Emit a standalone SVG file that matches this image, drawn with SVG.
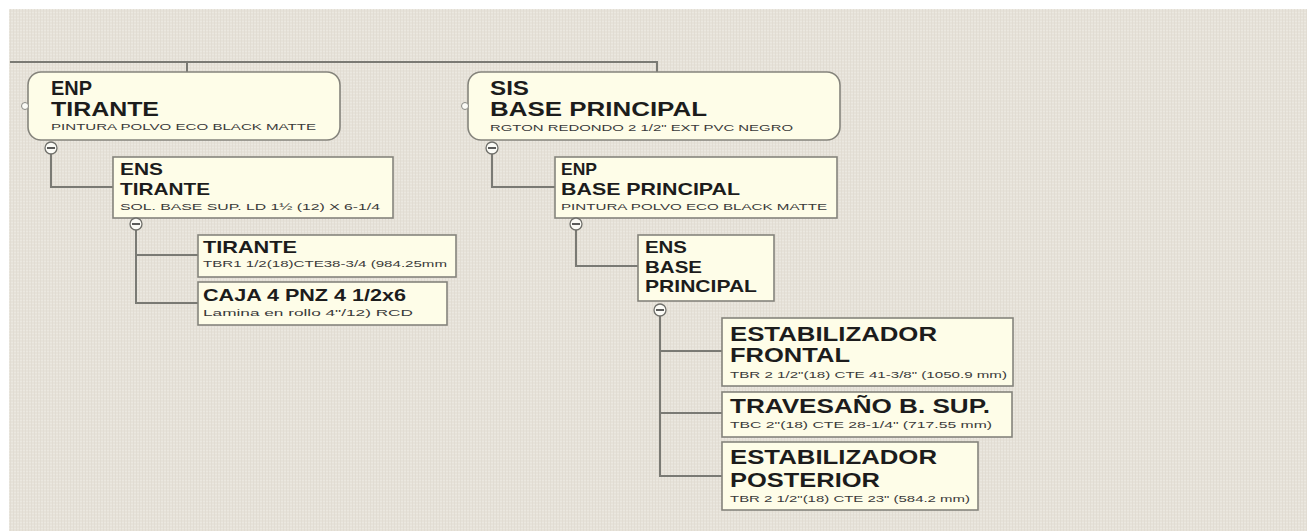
<svg xmlns="http://www.w3.org/2000/svg" width="1307" height="531" viewBox="0 0 1307 531">
<defs>
<pattern id="linen" width="6" height="6" patternUnits="userSpaceOnUse">
<rect width="6" height="6" fill="#e6e2d9"/>
<path d="M0 0.5H6M0 3.5H6" stroke="#ebe8e0" stroke-width="1"/>
<path d="M1.5 0V6M4.5 0V6" stroke="#dfdbd1" stroke-width="0.8"/>
</pattern>
</defs>
<style>
.box{fill:#fefde8;stroke:#85847c;stroke-width:1.6}
.t{font-family:"Liberation Sans",Arial,sans-serif;font-weight:bold;fill:#1c1c1c}
.s{font-family:"Liberation Sans",Arial,sans-serif;fill:#3a3a3a;font-size:9.5px}
.c{fill:none;stroke:#7a7a74;stroke-width:2}
.tog{fill:#fbfbf6;stroke:#6f6f6a;stroke-width:1.3}
.dash{stroke:#333;stroke-width:1.6}
.dot{fill:#fbfbf6;stroke:#8a8a84;stroke-width:1}
</style>
<rect width="1307" height="531" fill="#ffffff"/>
<rect x="9" y="9" width="1298" height="522" fill="url(#linen)"/>
<g id="connectors">
<path class="c" d="M10 62H658M187 62V72M657 62V72"/>
<path class="c" d="M51 154V187H113"/>
<path class="c" d="M492 154V187H555"/>
<path class="c" d="M136 230V303H198M136 255H198"/>
<path class="c" d="M576 230V266H638"/>
<path class="c" d="M660 316V476H722M660 351H722M660 413H722"/>
</g>
<g id="n-enp-tirante">
<rect class="box" x="28" y="72" width="312" height="68" rx="13"/>
<circle class="dot" cx="25" cy="106" r="3.5"/>
<text class="t" x="51" y="95" font-size="20" textLength="41" lengthAdjust="spacingAndGlyphs">ENP</text>
<text class="t" x="51" y="116" font-size="20" textLength="108" lengthAdjust="spacingAndGlyphs">TIRANTE</text>
<text class="s" x="51" y="130" textLength="265" lengthAdjust="spacingAndGlyphs">PINTURA POLVO ECO BLACK MATTE</text>
<circle class="tog" cx="51" cy="148" r="6"/><path class="dash" d="M47 148H55"/>
</g>
<g id="n-sis-base">
<rect class="box" x="468" y="72" width="372" height="68" rx="13"/>
<circle class="dot" cx="465" cy="106" r="3.5"/>
<text class="t" x="490" y="95" font-size="20" textLength="39" lengthAdjust="spacingAndGlyphs">SIS</text>
<text class="t" x="490" y="116" font-size="20" textLength="217" lengthAdjust="spacingAndGlyphs">BASE PRINCIPAL</text>
<text class="s" x="490" y="131" textLength="303" lengthAdjust="spacingAndGlyphs">RGTON REDONDO 2 1/2" EXT PVC NEGRO</text>
<circle class="tog" cx="492" cy="148" r="6"/><path class="dash" d="M488 148H496"/>
</g>
<g id="n-ens-tirante">
<rect class="box" x="113" y="157" width="280" height="61"/>
<text class="t" x="120" y="175" font-size="17" textLength="43" lengthAdjust="spacingAndGlyphs">ENS</text>
<text class="t" x="120" y="195" font-size="17" textLength="90" lengthAdjust="spacingAndGlyphs">TIRANTE</text>
<text class="s" x="120" y="210" textLength="260" lengthAdjust="spacingAndGlyphs">SOL. BASE SUP. LD 1½ (12)  X 6-1/4</text>
<circle class="tog" cx="136" cy="224" r="6"/><path class="dash" d="M132 224H140"/>
</g>
<g id="n-tirante">
<rect class="box" x="198" y="235" width="258" height="42"/>
<text class="t" x="203" y="253" font-size="17" textLength="94" lengthAdjust="spacingAndGlyphs">TIRANTE</text>
<text class="s" x="203" y="267" textLength="244" lengthAdjust="spacingAndGlyphs">TBR1 1/2(18)CTE38-3/4 (984.25mm</text>
</g>
<g id="n-caja">
<rect class="box" x="198" y="282" width="249" height="43"/>
<text class="t" x="203" y="301" font-size="17" textLength="203" lengthAdjust="spacingAndGlyphs">CAJA 4 PNZ 4 1/2x6</text>
<text class="s" x="203" y="316" font-size="10.5" textLength="210" lengthAdjust="spacingAndGlyphs">Lamina en rollo 4"/12) RCD</text>
</g>
<g id="n-enp-base">
<rect class="box" x="555" y="157" width="282" height="61"/>
<text class="t" x="561" y="175" font-size="17" textLength="36" lengthAdjust="spacingAndGlyphs">ENP</text>
<text class="t" x="561" y="195" font-size="17" textLength="179" lengthAdjust="spacingAndGlyphs">BASE PRINCIPAL</text>
<text class="s" x="561" y="210" textLength="266" lengthAdjust="spacingAndGlyphs">PINTURA POLVO ECO BLACK MATTE</text>
<circle class="tog" cx="576" cy="224" r="6"/><path class="dash" d="M572 224H580"/>
</g>
<g id="n-ens-base">
<rect class="box" x="638" y="235" width="136" height="66"/>
<text class="t" x="645" y="253" font-size="17" textLength="42" lengthAdjust="spacingAndGlyphs">ENS</text>
<text class="t" x="645" y="273" font-size="17" textLength="57" lengthAdjust="spacingAndGlyphs">BASE</text>
<text class="t" x="645" y="292" font-size="17" textLength="112" lengthAdjust="spacingAndGlyphs">PRINCIPAL</text>
<circle class="tog" cx="660" cy="310" r="6"/><path class="dash" d="M656 310H664"/>
</g>
<g id="n-estab-frontal">
<rect class="box" x="722" y="318" width="291" height="68"/>
<text class="t" x="730" y="341" font-size="20" textLength="207" lengthAdjust="spacingAndGlyphs">ESTABILIZADOR</text>
<text class="t" x="730" y="362" font-size="20" textLength="120" lengthAdjust="spacingAndGlyphs">FRONTAL</text>
<text class="s" x="730" y="378" font-size="8.5" textLength="277" lengthAdjust="spacingAndGlyphs">TBR 2 1/2"(18) CTE 41-3/8" (1050.9 mm)</text>
</g>
<g id="n-travesano">
<rect class="box" x="722" y="392" width="290" height="45"/>
<text class="t" x="730" y="413" font-size="20" textLength="260" lengthAdjust="spacingAndGlyphs">TRAVESAÑO B. SUP.</text>
<text class="s" x="730" y="428" font-size="8.5" textLength="262" lengthAdjust="spacingAndGlyphs">TBC 2"(18) CTE 28-1/4" (717.55 mm)</text>
</g>
<g id="n-estab-posterior">
<rect class="box" x="722" y="442" width="256" height="68"/>
<text class="t" x="730" y="464" font-size="20" textLength="207" lengthAdjust="spacingAndGlyphs">ESTABILIZADOR</text>
<text class="t" x="730" y="487" font-size="20" textLength="150" lengthAdjust="spacingAndGlyphs">POSTERIOR</text>
<text class="s" x="730" y="502" font-size="8.5" textLength="240" lengthAdjust="spacingAndGlyphs">TBR 2 1/2"(18) CTE 23" (584.2 mm)</text>
</g>
</svg>
